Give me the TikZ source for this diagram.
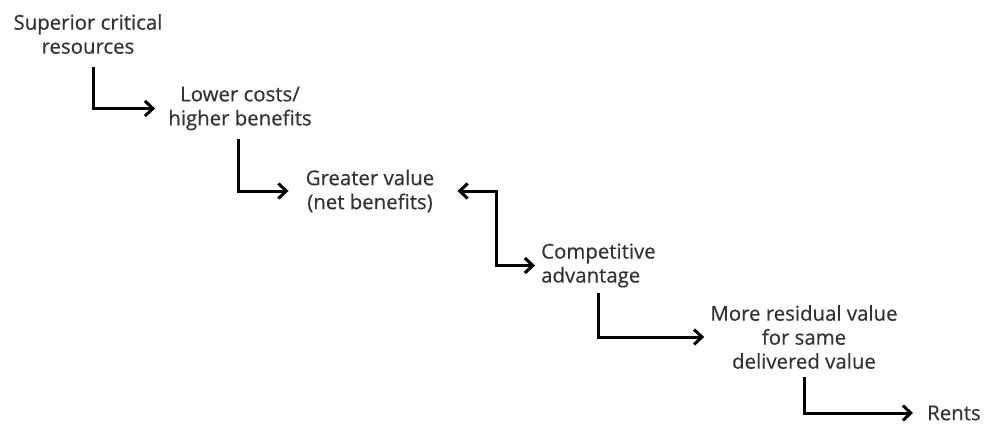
\documentclass[tikz,border=0pt]{standalone}
\usepackage{fontspec}
\setmainfont{Open Sans}
\newfontfamily\lblfont{Open Sans}[FakeBold=0.5]
\usetikzlibrary{arrows.meta}
\definecolor{txtgray}{HTML}{333333}
\begin{document}
\begin{tikzpicture}[x=1pt, y=-1pt,
  lbl/.style={text=txtgray, font=\lblfont\fontsize{20.4}{24}\selectfont, align=center, inner sep=0pt},
  flow/.style={draw=black, line width=3pt, -{Straight Barb[length=8pt,width=15pt]}},
  flowboth/.style={draw=black, line width=3pt,
    {Straight Barb[length=8pt,width=15pt]}-{Straight Barb[length=8pt,width=15pt]}}]
  \useasboundingbox (0,0) rectangle (984,429);

  % chain of effects
  \node[lbl] (src)   at (88,34)    {Superior critical\\resources};
  \node[lbl] (lc)    at (240,108.5) {Lower costs/\\higher benefits};
  \node[lbl] (gv)    at (370,191)  {Greater value\\(net benefits)};
  \node[lbl, anchor=west, align=left] (ca) at (541,265.5) {Competitive\\advantage};
  \node[lbl] (mr)    at (804,337)  {More residual value\\for same\\delivered value};
  \node[lbl, anchor=west] (rents) at (927,413) {Rents};

  % elbow connectors
  \draw[flow] ([xshift=5pt,yshift=-13pt]src.south) |- ([xshift=-13pt]lc.west);
  \draw[flow] ([xshift=-2pt,yshift=-9pt]lc.south) |- ([xshift=-17pt]gv.west);
  \draw[flowboth] ([xshift=23pt]gv.east) -- ++(39,0) |- ([xshift=-6pt]ca.west);
  \draw[flow] ([yshift=-5pt]ca.south) |- ([xshift=-6pt]mr.west);
  \draw[flow] ([yshift=-8pt]mr.south) |- ([xshift=-14pt]rents.west);
\end{tikzpicture}
\end{document}
